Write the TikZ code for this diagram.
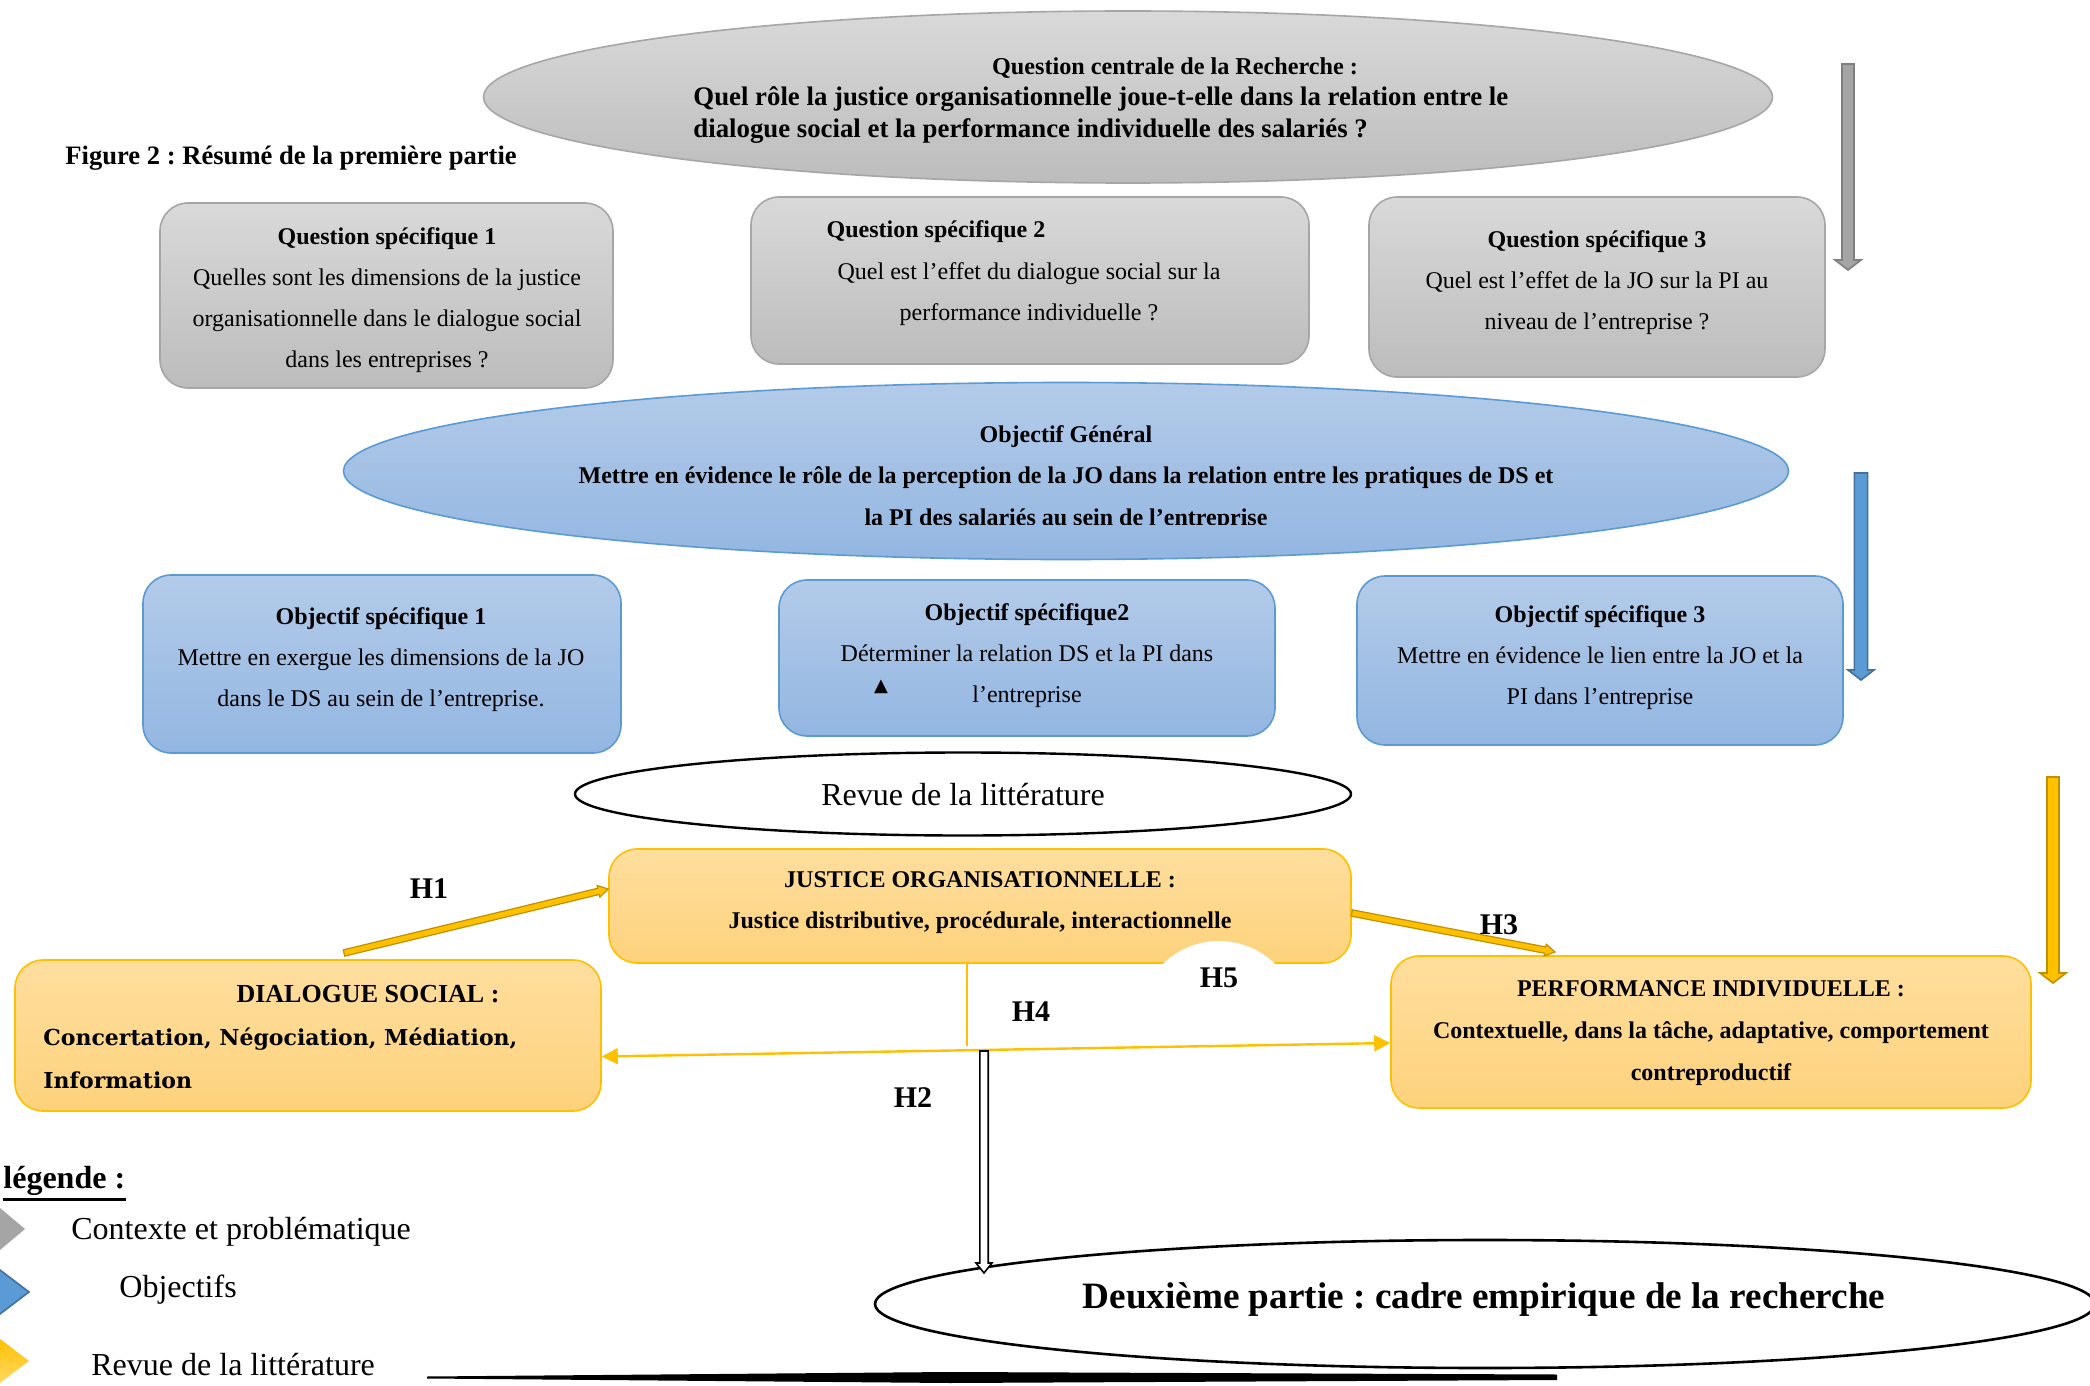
\documentclass[tikz,border=0pt]{standalone}
\usepackage{fontspec}
\setmainfont{Liberation Serif}
\newfontfamily\schfont{DejaVu Serif}
\newfontfamily\symfont{DejaVu Sans}
\usetikzlibrary{calc,shapes.geometric,arrows.meta}
\frenchspacing

\definecolor{grayTop}{HTML}{D9D9D9}
\definecolor{grayBot}{HTML}{BCBCBC}
\definecolor{grayEdge}{HTML}{A6A6A6}
\definecolor{grayArrow}{HTML}{A5A5A5}
\definecolor{grayArrowEdge}{HTML}{7F7F7F}
\definecolor{blueTop}{HTML}{B3CBE9}
\definecolor{blueBot}{HTML}{93B6E1}
\definecolor{blueEdge}{HTML}{5B9BD5}
\definecolor{blueDark}{HTML}{41719C}
\definecolor{yelTop}{HTML}{FFDE9E}
\definecolor{yelBot}{HTML}{FDD27C}
\definecolor{yelEdge}{HTML}{FFC000}
\definecolor{goldDark}{HTML}{BF9000}
\definecolor{yelLight}{HTML}{FFD966}

\newcommand\tsz[2]{\fontsize{#1}{#2}\selectfont}

% block arrow from #2 to #3: #4 shaft half-width, #5 head half-width, #6 head length
\newcommand\blockarrow[6]{%
  \coordinate (bac) at ($(#3)!#6!(#2)$);
  \filldraw[#1] ($(#2)!#4!90:(#3)$) -- ($(bac)!#4!90:(#3)$) -- ($(bac)!#5!90:(#3)$)
    -- (#3) -- ($(bac)!#5!-90:(#3)$) -- ($(bac)!#4!-90:(#3)$) -- ($(#2)!#4!-90:(#3)$) -- cycle;
}

\tikzset{
  graybox/.style={draw=grayEdge, line width=0.8pt, rounded corners=14pt,
    top color=grayTop, bottom color=grayBot, inner sep=0pt},
  bluebox/.style={draw=blueEdge, line width=0.8pt, rounded corners=14pt,
    top color=blueTop, bottom color=blueBot, inner sep=0pt},
  yelbox/.style={draw=yelEdge, line width=0.8pt, rounded corners=14pt,
    top color=yelTop, bottom color=yelBot, inner sep=0pt},
  txt/.style={inner sep=0pt, align=center},
  boxtext/.style={txt, font=\tsz{12}{20.5}},
  hlab/.style={inner sep=0pt, font=\bfseries\tsz{15}{15}},
  legtext/.style={inner sep=0pt, anchor=west, font=\tsz{16}{16}},
  outline/.style={draw=black, line width=1.3pt, fill=white, ellipse, inner sep=0pt},
}

\begin{document}
\begin{tikzpicture}[x=0.5pt, y=-0.5pt]
\useasboundingbox (0,0) rectangle (2090,1386);
\fill[white] (0,0) rectangle (2090,1386);

% ---- central question ----
\node[ellipse, draw=grayEdge, line width=0.8pt, top color=grayTop, bottom color=grayBot,
  minimum width=644.5pt, minimum height=86pt, inner sep=0pt] (qc) at (1128,97) {};
\node[txt, font=\bfseries\tsz{12.1}{16}] (qct) at (1175,68) {Question centrale de la Recherche :};
\node[txt, anchor=west, align=left, font=\bfseries\tsz{13.4}{16}] (qcb) at (693,115)
  {Quel rôle la justice organisationnelle joue-t-elle dans la relation entre le\\
   dialogue social et la performance individuelle des salariés ?};

\node[inner sep=0pt, anchor=west, font=\bfseries\tsz{13.3}{14}] (fig) at (65,158)
  {Figure 2 : Résumé de la première partie};

% ---- specific questions ----
\node[graybox, minimum width=226.5pt, minimum height=92.5pt] (qs1) at (386.5,295.5) {};
\node[graybox, minimum width=279pt, minimum height=83.5pt] (qs2) at (1030,280.5) {};
\node[graybox, minimum width=228pt, minimum height=90pt] (qs3) at (1597,287) {};

\node[boxtext] (qs1t) at (387,300) {\textbf{Question spécifique 1}\\
  Quelles sont les dimensions de la justice\\organisationnelle dans le dialogue social\\dans les entreprises ?};
\node[boxtext, font=\bfseries\tsz{12}{12}] (qs2h) at (936,232) {Question spécifique 2};
\node[boxtext] (qs2t) at (1029,294.5) {Quel est l’effet du dialogue social sur la\\performance individuelle ?};
\node[boxtext] (qs3t) at (1597,283) {\textbf{Question spécifique 3}\\
  Quel est l’effet de la JO sur la PI au\\niveau de l’entreprise ?};

% ---- general objective ----
\node[ellipse, draw=blueEdge, line width=0.8pt, top color=blueTop, bottom color=blueBot,
  minimum width=722.5pt, minimum height=88.5pt, inner sep=0pt] (og) at (1066,471) {};
\begin{scope}
  \clip (300,380) rectangle (1800,524);
  \node[txt, font=\bfseries\tsz{12}{20.8}] (ogt) at (1066,478)
    {Objectif Général\\Mettre en évidence le rôle de la perception de la JO dans la relation entre les pratiques de DS et\\la PI des salariés au sein de l’entreprise};
\end{scope}

% ---- specific objectives ----
\node[bluebox, minimum width=239pt, minimum height=89pt] (os1) at (382,664) {};
\node[bluebox, minimum width=248pt, minimum height=78pt] (os2) at (1027,658) {};
\node[bluebox, minimum width=243pt, minimum height=84.5pt] (os3) at (1600,660.5) {};

\node[boxtext] (os1t) at (381,660) {\textbf{Objectif spécifique 1}\\
  Mettre en exergue les dimensions de la JO\\dans le DS au sein de l’entreprise.};
\node[boxtext] (os2t) at (1027,656) {\textbf{Objectif spécifique2}\\
  Déterminer la relation DS et la PI dans\\l’entreprise};
\node[inner sep=0pt, font=\symfont\tsz{9}{9}] (tri) at (881,687) {▲};
\node[boxtext] (os3t) at (1600,658) {\textbf{Objectif spécifique 3}\\
  Mettre en évidence le lien entre la JO et la\\PI dans l’entreprise};

% ---- literature review ----
\node[outline, line width=1.2pt, minimum width=388pt, minimum height=41.5pt] (rev) at (963,794) {};
\node[txt, font=\tsz{16}{16}] (revt) at (963,795) {Revue de la littérature};

% ---- concepts ----
\node[yelbox, minimum width=371pt, minimum height=57pt] (jo) at (980,906) {};
\node[yelbox, minimum width=293pt, minimum height=75.5pt] (ds) at (308,1035.5) {};
\node[yelbox, minimum width=320pt, minimum height=76pt] (pi) at (1711,1032) {};

\fill[white] (1219,1021) circle (40pt);

\node[txt, font=\bfseries\tsz{12}{20.5}] (jot) at (980,903)
  {JUSTICE ORGANISATIONNELLE :\\Justice distributive, procédurale, interactionnelle};
\node[txt, font=\bfseries\tsz{13}{13}] (dsh) at (368,994) {DIALOGUE SOCIAL :};
\node[txt, anchor=west, align=left, font=\schfont\bfseries\tsz{11}{21.5}] (dst) at (43,1058)
  {Concertation, Négociation, Médiation,\\Information};
\node[txt, font=\bfseries\tsz{12}{21}] (pit) at (1711,1033)
  {PERFORMANCE INDIVIDUELLE :\\Contextuelle, dans la tâche, adaptative, comportement\\contreproductif};

% ---- second part ----
\node[outline, minimum width=610pt, minimum height=64pt] (deux) at (1485,1304) {};
\node[txt, font=\bfseries\tsz{18.6}{19}] (deuxt) at (1484,1300)
  {Deuxième partie : cadre empirique de la recherche};

% ---- hypotheses links ----
\coordinate (h1s) at (344,953);
\coordinate (h1e) at ([yshift=8.5pt]jo.west);
\blockarrow{fill=yelEdge, draw=goldDark, line width=0.6pt}{h1s}{h1e}{1.6pt}{3pt}{5pt}
\coordinate (h3s) at ([yshift=-3.5pt]jo.east);
\coordinate (h3e) at (1555,952);
\blockarrow{fill=yelEdge, draw=goldDark, line width=0.6pt}{h3s}{h3e}{1.6pt}{3pt}{5pt}

\coordinate (jun) at (967,1046);
\draw[yelEdge, line width=1pt] (jo.south -| jun) -- (jun);
\draw[yelEdge, line width=1.2pt, {Triangle[length=8pt,width=8pt]}-{Triangle[length=8pt,width=8pt]}]
  ([yshift=-10.5pt]ds.east) -- ([yshift=-5.5pt]pi.west);

\coordinate (h2s) at (984,1051);
\coordinate (h2e) at (984,1273);
\blockarrow{fill=white, draw=black, line width=0.8pt}{h2s}{h2e}{2.1pt}{4pt}{5pt}

\node[hlab] (lh1) at (429,889) {H1};
\node[hlab] (lh2) at (913,1098) {H2};
\node[hlab] (lh3) at (1499,925) {H3};
\node[hlab] (lh4) at (1031,1012) {H4};
\node[hlab] (lh5) at (1219,978) {H5};

% ---- stage arrows ----
\coordinate (ga1) at (1848,64);  \coordinate (ga2) at (1848,270);
\blockarrow{fill=grayArrow, draw=grayArrowEdge, line width=0.8pt}{ga1}{ga2}{3pt}{6.5pt}{5pt}
\coordinate (ba1) at (1861,473); \coordinate (ba2) at (1861,680);
\blockarrow{fill=blueEdge, draw=blueDark, line width=0.8pt}{ba1}{ba2}{3.3pt}{6.5pt}{5pt}
\coordinate (ya1) at (2053,777); \coordinate (ya2) at (2053,983);
\blockarrow{fill=yelEdge, draw=goldDark, line width=0.8pt}{ya1}{ya2}{3pt}{6.5pt}{5pt}

% ---- legend ----
\node[inner sep=0pt, anchor=west, font=\bfseries\tsz{16}{16}] (leg) at (3,1181) {légende :};
\draw[line width=1.4pt] ([yshift=-5.5pt]leg.base west) -- ([yshift=-5.5pt]leg.base east);
\fill[grayArrow] (25,1229) -- (0,1208) -- (-25,1229) -- (0,1250) -- cycle;
\filldraw[fill=blueEdge, draw=blueDark, line width=0.8pt] (29,1292) -- (0,1270) -- (-29,1292) -- (0,1314) -- cycle;
\shade[top color=yelEdge, bottom color=yelLight] (29,1361) -- (0,1339) -- (-29,1361) -- (0,1383) -- cycle;
\node[legtext] (leg1) at (71,1232) {Contexte et problématique};
\node[legtext] (leg2) at (119,1290) {Objectifs};
\node[legtext] (leg3) at (91,1365) {Revue de la littérature};

% ---- closing rule ----
\fill[black] (427,1376.5) -- (950,1372) -- (1557,1374.5) -- (1557,1380) -- (950,1383) -- (427,1378.5) -- cycle;
\end{tikzpicture}
\end{document}
